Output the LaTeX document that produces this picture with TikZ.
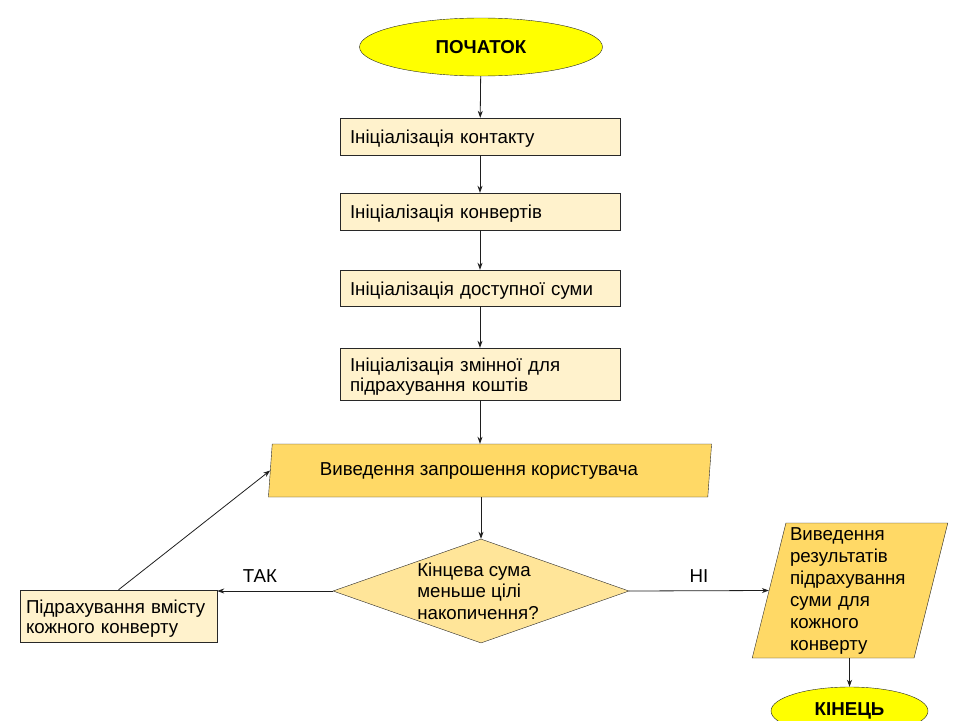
\documentclass[tikz,border=0pt]{standalone}
\usepackage{fontspec}
\setmainfont{Liberation Sans}
\usetikzlibrary{shapes.geometric,arrows.meta}
\begin{document}
\begin{tikzpicture}[x=1pt,y=1pt,yscale=-1,xscale=1,
  font=\fontsize{18.7}{21.5}\selectfont,
  terminal/.style={ellipse, draw={rgb, 255:red, 40; green, 40; blue, 40}, fill={rgb, 255:red, 255; green, 255; blue, 0}, font=\fontsize{18.7}{21.5}\selectfont\bfseries, inner sep=0pt},
  process/.style={rectangle, draw={rgb, 255:red, 40; green, 40; blue, 40}, fill={rgb, 255:red, 255; green, 242; blue, 204}, align=left, inner xsep=10pt, inner ysep=0pt, font=\fontsize{18.7}{20}\selectfont, execute at begin node={\rule[-5pt]{0pt}{24pt}}},
  inout/.style={trapezium, trapezium stretches=true, draw={rgb, 255:red, 40; green, 40; blue, 40}, fill={rgb, 255:red, 255; green, 217; blue, 102}, inner sep=0pt},
  decision/.style={diamond, draw={rgb, 255:red, 40; green, 40; blue, 40}, fill={rgb, 255:red, 255; green, 229; blue, 153}, inner sep=0pt},
  flow/.style={draw={rgb, 255:red, 30; green, 30; blue, 30}, line width=0.8pt, -{Stealth[length=7pt,width=5pt]}}]
\useasboundingbox (0,0) rectangle (960,720);

%Shape: Ellipse [start]
\node [terminal, minimum width=243, minimum height=58] (start) at (481,47) {ПОЧАТОК};
%Shape: Rectangle [init contact]
\node [process, text width=260, minimum height=37] (initcontact) at (480,136.5) {Ініціалізація контакту};
%Shape: Rectangle [init envelopes]
\node [process, text width=260, minimum height=37] (initenv) at (480,211.5) {Ініціалізація конвертів};
%Shape: Rectangle [init sum]
\node [process, text width=260, minimum height=36] (initsum) at (480,288) {Ініціалізація доступної суми};
%Shape: Rectangle [init counter]
\node [process, text width=260, minimum height=52] (initcount) at (480,374) {Ініціалізація змінної для\\підрахування коштів};
%Shape: Parallelogram [prompt]
\node [inout, trapezium left angle=80, trapezium right angle=100, minimum width=444, minimum height=53] (prompt) at (490,470.5) {Виведення запрошення користувача\hspace*{22pt}};
%Shape: Diamond [condition]
\node [decision, minimum width=296, minimum height=104, label={[align=left, xshift=-3pt]center:Кінцева сума\\меньше цілі\\накопичення?}] (cond) at (481,591) {};
%Shape: Rectangle [count]
\node [process, text width=185, inner xsep=6pt, minimum height=52] (count) at (118.5,616) {Підрахування вмісту\\кожного конверту};
%Shape: Parallelogram [result]
\node [inout, trapezium left angle=76, trapezium right angle=104, minimum width=196, minimum height=135, align=left, text width=120, font=\fontsize{18.7}{22}\selectfont] (result) at (850,590.5) {Виведення\\результатів\\підрахування\\суми для\\кожного\\конверту};
%Shape: Ellipse [end]
\node [terminal, minimum width=157, minimum height=48] (finish) at (849.5,711) {КІНЕЦЬ};

%Straight Lines
\draw [flow] (start) -- (initcontact);
\draw [flow] (initcontact) -- (initenv);
\draw [flow] (initenv) -- (initsum);
\draw [flow] (initsum) -- (initcount);
\draw [flow] (initcount.south) -- (initcount.south |- prompt.north);
\draw [flow] (prompt.south -| cond.north) -- (cond.north);
\draw [flow] (cond.west) -- node [pos=0.63, above=5pt] {ТАК} (cond.west -| count.east);
\draw [flow] (count.north) -- (prompt.west);
\draw [flow] (cond.east) -- node [midway, above=5pt] {НІ} (result.west);
\draw [flow] (result.south -| finish.north) -- (finish.north);

\end{tikzpicture}
\end{document}
